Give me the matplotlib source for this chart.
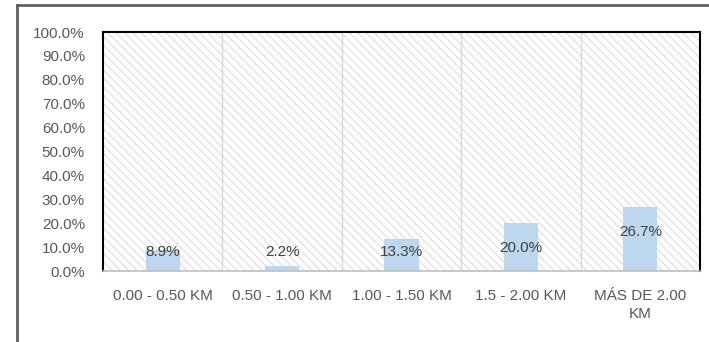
import matplotlib.pyplot as plt
from matplotlib.patches import Rectangle
from matplotlib.lines import Line2D

categories = ['0.00 - 0.50 KM', '0.50 - 1.00 KM', '1.00 - 1.50 KM',
              '1.5 - 2.00 KM', 'MÁS DE 2.00\nKM']
values = [8.9, 2.2, 13.3, 20.0, 26.7]
yticks = [0, 10, 20, 30, 40, 50, 60, 70, 80, 90, 100]

plt.rcParams['font.family'] = ['Liberation Sans', 'DejaVu Sans']
plt.rcParams['font.size'] = 11
plt.rcParams['hatch.linewidth'] = 0.8
txt = '#595959'

fig = plt.figure(figsize=(7.09, 3.42), dpi=100)
ax = fig.add_axes([0.1453, 0.2076, 0.842, 0.6988])

# outer frame (only left and top visible in crop)
fig.add_artist(Line2D([17 / 709, 17 / 709], [0, 1 - 5 / 342],
                      transform=fig.transFigure, color='#606060', lw=2))
fig.add_artist(Line2D([17 / 709, 1], [1 - 5 / 342, 1 - 5 / 342],
                      transform=fig.transFigure, color='#606060', lw=2))

# hatched plot background
ax.add_patch(Rectangle((0, 0), 1, 1, transform=ax.transAxes, facecolor='white',
                       edgecolor='#dedede', linewidth=0, hatch='\\\\\\\\',
                       zorder=0))

x = list(range(len(categories)))
ax.bar(x, values, width=0.285, color='#bdd7ee', zorder=2)

for i in range(len(categories) - 1):
  ax.axvline(i + 0.5, color='#d9d9d9', lw=1, zorder=1)

for xi, v in zip(x, values):
  ax.text(xi, max(v - 10.4, 7.9), f'{v:.1f}%', ha='center', va='center',
          color='#404040', fontsize=11, zorder=3)

ax.set_xlim(-0.5, len(categories) - 0.5)
ax.set_ylim(0, 100)
ax.set_yticks(yticks)
ax.set_yticklabels([f'{t:.1f}%' for t in yticks], color=txt)
ax.set_xticks(x)
ax.set_xticklabels(categories, color=txt, linespacing=1.4)
ax.tick_params(axis='y', length=0, pad=13)
ax.tick_params(axis='x', length=0, pad=13)

for s in ['left', 'top', 'right']:
  ax.spines[s].set_color('black')
  ax.spines[s].set_linewidth(1.5)
ax.spines['bottom'].set_color('#bfbfbf')
ax.spines['bottom'].set_linewidth(1.2)

fig.savefig('out.png', dpi=100)
